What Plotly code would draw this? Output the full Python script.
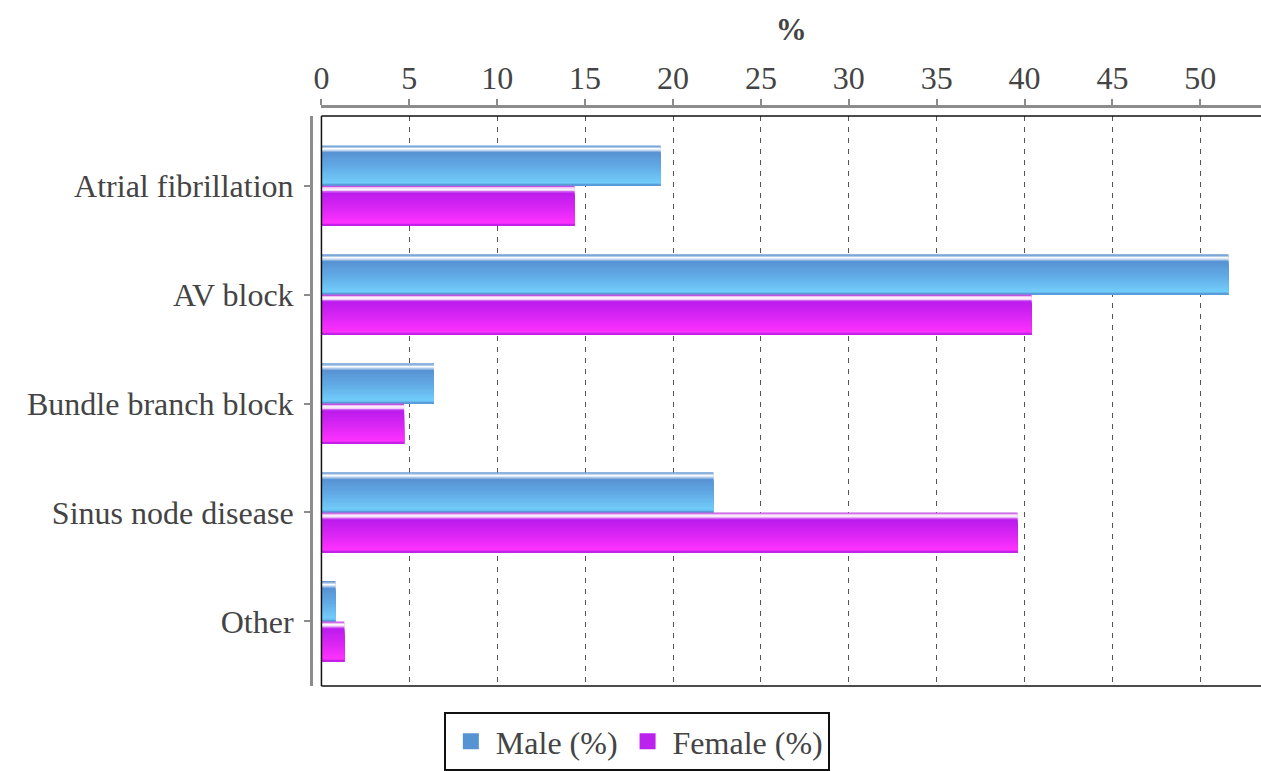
import plotly.graph_objects as go

# Conduction disorder categories and the share of each sex (%)
categories = ["Atrial fibrillation", "AV block", "Bundle branch block", "Sinus node disease", "Other"]
male_pct = [19.3, 51.6, 6.4, 22.3, 0.8]
female_pct = [14.4, 40.4, 4.7, 39.6, 1.3]
x_ticks = [0, 5, 10, 15, 20, 25, 30, 35, 40, 45, 50]

FONT = "Times New Roman, Liberation Serif, DejaVu Serif, serif"
TEXT = "#444444"
AXIS_GREY = "#8c8c8c"
BAR_T = 0.37      # thickness of one bar in category units
N_STRIPES = 30    # vertical shading steps per bar

# colour stops (fraction from top edge, rgb) for a glossy tube look
male_stops = [(0.00, (74, 134, 200)), (0.04, (150, 185, 225)), (0.08, (255, 255, 255)),
              (0.12, (205, 222, 242)), (0.17, (88, 146, 211)), (0.55, (98, 172, 230)),
              (0.93, (114, 205, 250)), (1.00, (80, 142, 208))]
female_stops = [(0.00, (168, 24, 216)), (0.04, (232, 168, 240)), (0.08, (255, 255, 255)),
                (0.12, (240, 200, 248)), (0.17, (186, 28, 237)), (0.55, (218, 38, 244)),
                (0.93, (255, 50, 255)), (1.00, (176, 28, 224))]


def colour_at(stops, f):
    for (f0, c0), (f1, c1) in zip(stops[:-1], stops[1:]):
        if f0 <= f <= f1:
            t = 0 if f1 == f0 else (f - f0) / (f1 - f0)
            c = [round(a + (b - a) * t) for a, b in zip(c0, c1)]
            return f"rgb({c[0]},{c[1]},{c[2]})"
    c = stops[-1][1]
    return f"rgb({c[0]},{c[1]},{c[2]})"


def shaded_bar(values, top_offset, stops):
    """Stack thin bars, each running from its stripe start to the bar bottom."""
    out = []
    for k in range(N_STRIPES):
        f = k / N_STRIPES
        start = top_offset + f * BAR_T
        out.append(go.Bar(
            x=values, y=categories, orientation="h",
            offset=start, width=top_offset + BAR_T - start,
            marker=dict(color=colour_at(stops, f + 0.5 / N_STRIPES), line=dict(width=0)),
            showlegend=False, hoverinfo="skip",
        ))
    return out


fig = go.Figure()
for tr in shaded_bar(male_pct, -BAR_T, male_stops):
    fig.add_trace(tr)
for tr in shaded_bar(female_pct, 0.0, female_stops):
    fig.add_trace(tr)

# legend entries
fig.add_trace(go.Scatter(x=[None], y=[None], mode="markers", name="Male (%)",
                         marker=dict(symbol="square", size=22, color="#5593d3")))
fig.add_trace(go.Scatter(x=[None], y=[None], mode="markers", name="Female (%)",
                         marker=dict(symbol="square", size=22, color="#bb22ee")))

fig.update_layout(
    width=1261, height=771,
    margin=dict(l=311, r=0, t=106, b=82),
    paper_bgcolor="white", plot_bgcolor="white",
    barmode="overlay",
    font=dict(family=FONT, size=32, color=TEXT),
    xaxis=dict(
        side="top", anchor="free", position=1, domain=[0.011, 1],
        range=[0, 53.45], tickvals=x_ticks,
        showline=True, linecolor=AXIS_GREY, linewidth=3,
        ticks="outside", ticklen=6, tickwidth=2, tickcolor=AXIS_GREY,
        ticklabelstandoff=-3,
        showgrid=True, gridcolor="#555555", gridwidth=1, griddash="5px,6px",
        zeroline=False,
        title=dict(text="<b>%</b>", font=dict(family=FONT, size=31, color=TEXT), standoff=9),
        tickfont=dict(family=FONT, size=32, color=TEXT),
    ),
    yaxis=dict(
        anchor="free", position=0, domain=[0, 0.9828],
        type="category", categoryorder="array", categoryarray=categories,
        range=[4.593, -0.64],
        showline=True, linecolor=AXIS_GREY, linewidth=3,
        ticks="outside", ticklen=6, tickwidth=2, tickcolor=AXIS_GREY,
        ticklabelstandoff=4,
        showgrid=False, zeroline=False,
        tickfont=dict(family=FONT, size=32, color=TEXT),
    ),
    legend=dict(
        orientation="h", x=0.343, xanchor="center", y=-0.045, yanchor="top",
        bordercolor="#111111", borderwidth=2, bgcolor="white",
        font=dict(family=FONT, size=32, color=TEXT),
        itemwidth=40,
    ),
)

# frame around the plotting area (top, left, bottom)
for x0, y0, x1, y1 in [(0, 1, 1, 1), (0, 0, 0, 1), (0, 0, 1, 0)]:
    fig.add_shape(type="line", xref="x domain", yref="y domain",
                  x0=x0, y0=y0, x1=x1, y1=y1, line=dict(color="#111111", width=1.5))

fig.write_html("out.html")
